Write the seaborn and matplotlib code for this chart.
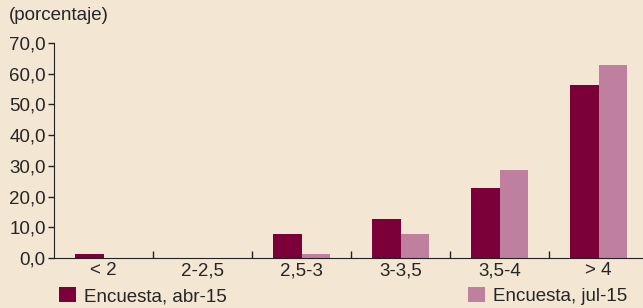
import pandas as pd
import matplotlib.pyplot as plt
import seaborn as sns
from matplotlib.patches import Patch
from matplotlib.ticker import FixedLocator

# Survey data (percentage of respondents per range)
categories = ["< 2", "2-2,5", "2,5-3", "3-3,5", "3,5-4", "> 4"]
abr_15 = [1.2, 0.0, 7.8, 12.7, 22.8, 56.3]
jul_15 = [0.0, 0.0, 1.3, 7.8, 28.7, 62.9]
series_names = ["Encuesta, abr-15", "Encuesta, jul-15"]
y_ticks = [0, 10, 20, 30, 40, 50, 60, 70]

bg = "#F3E6D3"
colors = ["#7B003A", "#BF809F"]
fs = 13.5

df = pd.DataFrame({
    "rango": categories * 2,
    "valor": abr_15 + jul_15,
    "serie": [series_names[0]] * len(categories) + [series_names[1]] * len(categories),
})

sns.set_style("ticks")
plt.rcParams["font.family"] = ["Liberation Sans", "DejaVu Sans"]

fig = plt.figure(figsize=(6.43, 3.08), dpi=100, facecolor=bg)
ax = fig.add_axes([54 / 643, 50 / 308, 1 - 54 / 643, 215 / 308])
ax.set_facecolor(bg)

sns.barplot(data=df, x="rango", y="valor", hue="serie", palette=colors,
            width=0.57, gap=0, saturation=1, linewidth=0, ax=ax, legend=False)

ax.set_ylim(0, 70)
ax.set_xlim(-0.5, -0.5 + 589 / 99)
ax.set_yticks(y_ticks)
ax.set_yticklabels([f"{v:.1f}".replace(".", ",") for v in y_ticks], fontsize=fs)
ax.set_xticks(range(len(categories)))
ax.set_xticklabels(categories, fontsize=fs)
ax.tick_params(axis="x", length=0, pad=3)
ax.xaxis.set_minor_locator(FixedLocator([i + 0.5 for i in range(len(categories) - 1)]))
ax.tick_params(axis="x", which="minor", direction="in", length=5, width=1, color="#222222")
ax.tick_params(axis="y", length=4, width=1, color="#222222", pad=2)
ax.set_xlabel("")
ax.set_ylabel("")
for s in ["top", "right"]:
    ax.spines[s].set_visible(False)
ax.spines["left"].set_color("#222222")
ax.spines["bottom"].set_color("#222222")

fig.text(9 / 643, 1 - 16 / 308, "(porcentaje)", fontsize=fs, va="center", ha="left")

h1 = [Patch(facecolor=colors[0], edgecolor="none")]
h2 = [Patch(facecolor=colors[1], edgecolor="none")]
leg_kw = dict(frameon=False, fontsize=fs, handlelength=0.9, handleheight=0.9,
              handletextpad=0.45, borderpad=0, borderaxespad=0, loc="center left")
fig.legend(h1, [series_names[0]], bbox_to_anchor=(59 / 643, 1 - 296 / 308), **leg_kw)
fig.legend(h2, [series_names[1]], bbox_to_anchor=(468 / 643, 1 - 296 / 308), **leg_kw)

fig.savefig("out.png", dpi=100, facecolor=bg)
